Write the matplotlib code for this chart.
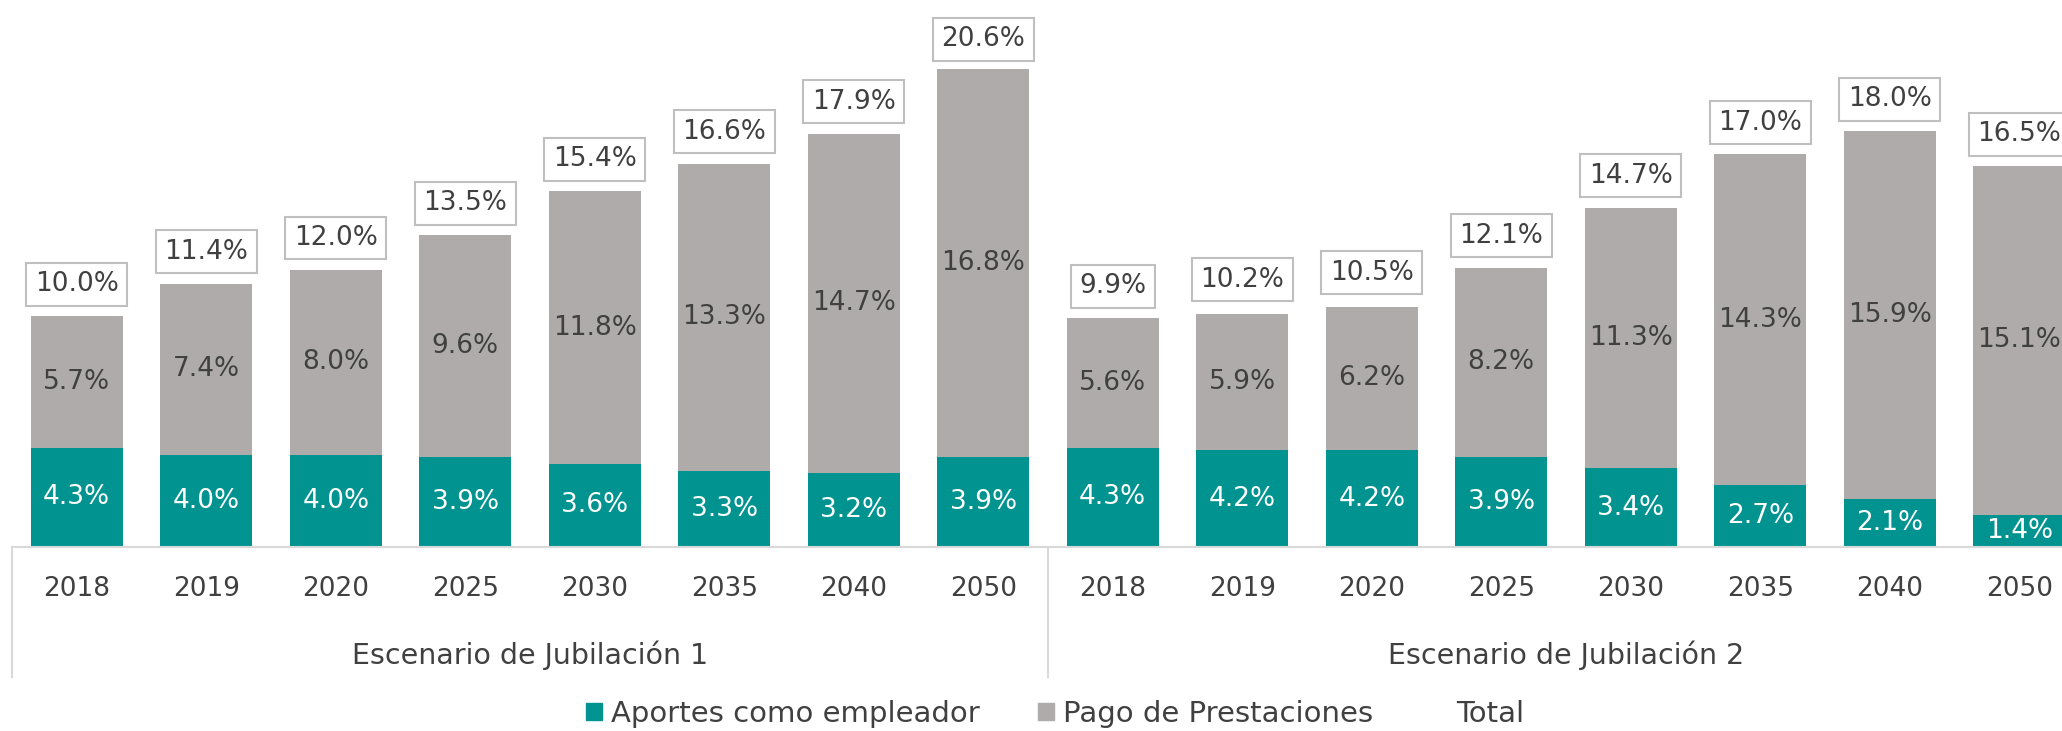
import matplotlib.pyplot as plt
from matplotlib.patches import Patch
from matplotlib.lines import Line2D
import numpy as np

years = ['2018', '2019', '2020', '2025', '2030', '2035', '2040', '2050']
scenarios = ['Escenario de Jubilación 1', 'Escenario de Jubilación 2']
aportes = [4.3, 4.0, 4.0, 3.9, 3.6, 3.3, 3.2, 3.9,
           4.3, 4.2, 4.2, 3.9, 3.4, 2.7, 2.1, 1.4]
prestaciones = [5.7, 7.4, 8.0, 9.6, 11.8, 13.3, 14.7, 16.8,
                5.6, 5.9, 6.2, 8.2, 11.3, 14.3, 15.9, 15.1]
total = [10.0, 11.4, 12.0, 13.5, 15.4, 16.6, 17.9, 20.6,
         9.9, 10.2, 10.5, 12.1, 14.7, 17.0, 18.0, 16.5]

TEAL = '#00938f'
GRAY = '#afabab'
TXT = '#404040'
LINE = '#d9d9d9'
FS = 19
FS_WORDS = 20.5

plt.rcParams['font.family'] = ['DejaVu Sans']

W, H = 2062, 731
fig = plt.figure(figsize=(W / 100, H / 100), dpi=100)
# axes runs past the right edge, the original is cropped there
ax_left, ax_w = 12, 16 * 129.5
base_y, ax_h = 547, 508
ax = fig.add_axes([ax_left / W, (H - base_y) / H, ax_w / W, ax_h / H])

x = np.arange(len(aportes))
bw = 0.71
ax.bar(x, aportes, bw, color=TEAL)
ax.bar(x, prestaciones, bw, bottom=aportes, color=GRAY)

for i in x:
    ax.text(i, aportes[i] / 2, f'{aportes[i]:.1f}%', ha='center', va='center',
            color='white', fontsize=FS)
    ax.text(i, aportes[i] + prestaciones[i] / 2, f'{prestaciones[i]:.1f}%',
            ha='center', va='center', color=TXT, fontsize=FS)
    ax.annotate(f'{total[i]:.1f}%', (i, total[i]), xytext=(0, 23),
                textcoords='offset points', ha='center', va='center',
                color=TXT, fontsize=FS,
                bbox=dict(boxstyle='square,pad=0.32', fc='white', ec='#bfbfbf', lw=1.5))

ax.set_xlim(-0.5, len(x) - 0.5)
ax.set_ylim(0, 22)
ax.set_xticks(x)
ax.set_xticklabels(years * 2, fontsize=FS, color=TXT)
ax.tick_params(axis='x', length=0, pad=21)
ax.set_yticks([])
for s in ['top', 'right', 'left']:
    ax.spines[s].set_visible(False)
ax.spines['bottom'].set_color(LINE)
ax.spines['bottom'].set_linewidth(1.5)

# group separators and group labels
trans = ax.get_xaxis_transform()
sep_bottom = (base_y - 677) / ax_h
for sx in [-0.5, 7.5, 15.5]:
    ax.add_line(Line2D([sx, sx], [0, sep_bottom], transform=trans, color=LINE,
                       lw=1.5, clip_on=False))
for g, name in enumerate(scenarios):
    ax.text(g * 8 + 3.5, (base_y - 655) / ax_h, name, transform=trans,
            ha='center', va='center', fontsize=FS_WORDS, color=TXT)

handles = [Patch(color=TEAL), Patch(color=GRAY), Line2D([], [], color='none')]
fig.legend(handles, ['Aportes como empleador', 'Pago de Prestaciones', 'Total'],
           loc='center', bbox_to_anchor=(1055 / W, 17 / H), ncol=3, frameon=False,
           fontsize=21, labelcolor=TXT, handlelength=0.55, handleheight=0.55,
           handletextpad=0.3, columnspacing=2.0, borderpad=0.1)

fig.savefig('out.png', dpi=100)
